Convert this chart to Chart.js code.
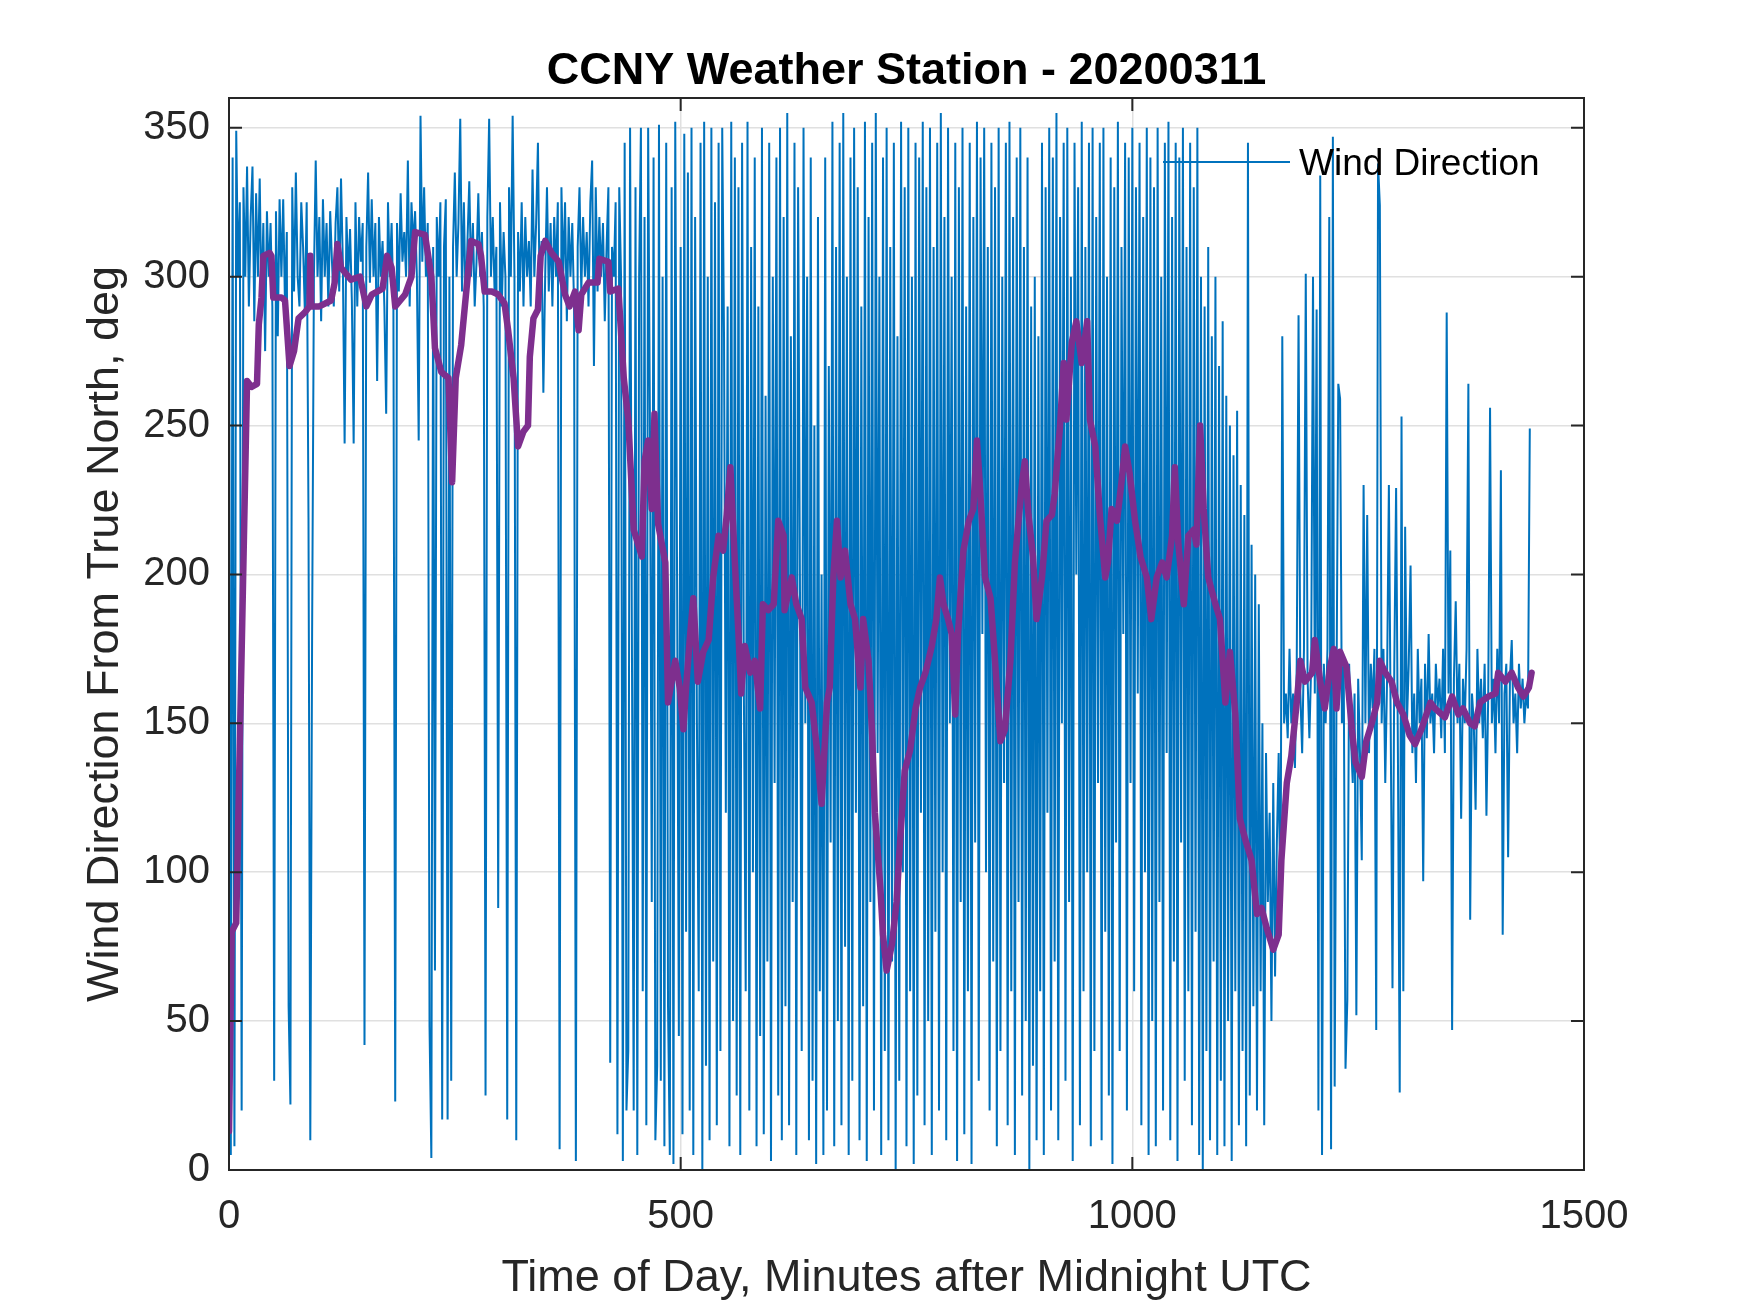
<!DOCTYPE html>
<html>
<head>
<meta charset="utf-8">
<title>CCNY Weather Station - 20200311</title>
<script src="https://cdn.jsdelivr.net/npm/chart.js@4.4.1/dist/chart.umd.min.js"></script>
<style>
  body { margin: 0; background: #fff; }
  #windChart { display: block; }
</style>
</head>
<body>
<canvas id="windChart" width="1750" height="1313"></canvas>
<script>
// station record, every 2 minutes (one row = one hour)
const sampleStart = 0;
const sampleStep = 2;
const windDirection = [
  318, 5, 340, 8, 349, 300, 325, 20, 330, 300, 337, 290, 320, 337, 285, 328, 300, 333, 290, 318, 275, 322, 300, 318, 290, 30, 322, 280, 326, 300,
  326, 290, 315, 55, 22, 330, 295, 335, 300, 290, 325, 310, 288, 325, 219, 10, 180, 300, 339, 300, 320, 285, 326, 300, 318, 290, 322, 305, 290, 318,
  330, 295, 333, 305, 244, 320, 300, 316, 292, 244, 325, 290, 320, 305, 318, 42, 310, 335, 298, 326, 300, 318, 265, 320, 300, 312, 290, 254, 325, 300,
  318, 290, 23, 318, 295, 328, 305, 315, 300, 339, 290, 325, 310, 322, 300, 245, 354, 305, 330, 300, 318, 48, 4, 310, 67, 320, 300, 325, 17, 310,
  326, 17, 300, 30, 310, 335, 300, 318, 353, 295, 325, 290, 312, 332, 300, 318, 290, 305, 328, 300, 315, 290, 25, 320, 353, 300, 320, 295, 310, 88,
  325, 290, 315, 300, 17, 330, 300, 354, 300, 10, 315, 295, 325, 290, 320, 300, 312, 290, 336, 300, 318, 345, 290, 312, 261, 300, 330, 295, 318, 290,
  320, 300, 325, 7, 330, 300, 325, 285, 320, 300, 318, 290, 3, 310, 330, 295, 320, 300, 315, 290, 325, 339, 270, 330, 295, 320, 300, 318, 285, 310,
  330, 36, 310, 300, 325, 12, 330, 300, 3, 345, 20, 40, 350, 180, 20, 330, 5, 300, 350, 60, 320, 15, 350, 250, 90, 340, 10, 35, 351, 30,
  300, 8, 345, 55, 5, 330, 2, 352, 200, 45, 310, 12, 348, 80, 335, 20, 350, 5, 320, 150, 60, 345, 0, 352, 35, 300, 10, 350, 70, 325,
  15, 345, 40, 350, 280, 120, 290, 8, 352, 50, 340, 25, 330, 5, 345, 160, 60, 352, 20, 310, 100, 340, 8, 290, 45, 350, 12, 260, 70, 345,
  3, 300, 130, 340, 25, 350, 10, 320, 55, 355, 15, 280, 90, 345, 5, 330, 200, 40, 350, 150, 300, 10, 340, 30, 250, 2, 320, 60, 200, 5,
  340, 20, 270, 110, 352, 8, 310, 50, 345, 15, 355, 75, 300, 5, 340, 30, 350, 120, 330, 10, 290, 55, 352, 3, 320, 90, 345, 20, 355, 140,
  300, 5, 340, 40, 350, 10, 310, 70, 345, 0, 280, 30, 352, 100, 330, 8, 350, 60, 300, 2, 345, 25, 340, 120, 352, 15, 330, 50, 350, 5,
  310, 80, 345, 20, 355, 100, 320, 10, 350, 150, 300, 40, 345, 3, 330, 90, 350, 12, 290, 60, 345, 2, 320, 110, 352, 30, 340, 180, 350, 100,
  310, 20, 345, 70, 330, 8, 350, 40, 300, 130, 345, 15, 352, 60, 320, 5, 340, 90, 350, 25, 310, 50, 340, 0, 290, 35, 300, 10, 280, 60,
  345, 5, 330, 120, 350, 20, 340, 70, 355, 10, 320, 150, 345, 30, 350, 90, 300, 3, 345, 200, 330, 15, 352, 60, 310, 100, 345, 8, 350, 40,
  320, 130, 345, 10, 350, 80, 300, 25, 340, 2, 330, 110, 352, 40, 310, 180, 345, 20, 340, 130, 350, 60, 330, 160, 345, 15, 320, 100, 350, 5,
  340, 50, 330, 8, 350, 90, 300, 20, 345, 140, 352, 10, 320, 70, 345, 3, 340, 110, 350, 30, 310, 60, 345, 15, 330, 80, 350, 5, 300, 0,
  290, 40, 310, 10, 280, 70, 300, 5, 270, 30, 285, 8, 260, 50, 250, 3, 240, 60, 255, 15, 230, 40, 220, 8, 345, 25, 210, 55, 200, 20,
  190, 60, 150, 15, 140, 90, 120, 50, 130, 65, 110, 140, 80, 280, 150, 160, 145, 175, 150, 160, 135, 170, 287, 160, 140, 175, 301, 165, 145, 170,
  300, 160, 289, 20, 334, 5, 170, 150, 175, 320, 7, 347, 28, 160, 264, 259, 150, 170, 34, 57, 170, 145, 130, 160, 52, 165, 140, 104, 230, 150,
  220, 140, 170, 155, 175, 47, 338, 324, 150, 175, 130, 165, 230, 150, 61, 170, 229, 140, 26, 253, 60, 216, 150, 170, 203, 140, 160, 130, 175, 150,
  165, 97, 170, 145, 180, 150, 160, 140, 170, 155, 165, 145, 175, 140, 288, 160, 208, 47, 165, 191, 150, 170, 118, 165, 150, 175, 264, 84, 160, 150,
  121, 175, 150, 165, 145, 170, 119, 160, 256, 150, 165, 140, 175, 150, 235, 79, 160, 170, 105, 165, 178, 150, 160, 140, 170, 155, 165, 150, 160, 155,
  249
];

// running mean (purple), read at its corners
const avgMinutes = [
  0, 3, 8, 20, 25, 31, 33, 36, 38, 45, 47, 49, 58, 62, 67, 72, 77, 84, 89, 90,
  91, 100, 113, 117, 120, 124, 135, 145, 152, 158, 170, 175, 180, 184, 195, 202, 206, 217, 224, 228,
  235, 243, 247, 251, 257, 268, 276, 279, 283, 291, 298, 305, 309, 315, 320, 326, 331, 333, 337, 342,
  345, 350, 357, 365, 372, 377, 383, 387, 390, 398, 408, 410, 420, 422, 431, 437, 442, 448, 453, 457,
  460, 464, 468, 471, 475, 483, 486, 494, 499, 503, 506, 510, 514, 519, 525, 531, 536, 542, 547, 551,
  555, 560, 564, 567, 571, 577, 582, 588, 591, 597, 603, 608, 614, 615, 623, 628, 634, 638, 645, 651,
  656, 662, 665, 669, 673, 677, 682, 688, 693, 699, 702, 708, 712, 715, 721, 724, 728, 734, 739, 743,
  748, 754, 760, 765, 771, 778, 783, 787, 791, 796, 800, 804, 807, 813, 819, 824, 828, 831, 837, 843,
  848, 854, 859, 865, 870, 874, 878, 881, 885, 890, 894, 900, 905, 911, 914, 920, 924, 927, 933, 938,
  944, 950, 953, 959, 964, 970, 973, 977, 983, 988, 992, 997, 1003, 1009, 1016, 1021, 1027, 1033, 1038, 1044,
  1047, 1051, 1057, 1062, 1068, 1071, 1075, 1079, 1084, 1092, 1097, 1103, 1108, 1114, 1119, 1125, 1132, 1138, 1143, 1149,
  1156, 1162, 1165, 1171, 1176, 1182, 1186, 1191, 1199, 1202, 1208, 1213, 1219, 1223, 1226, 1230, 1237, 1243, 1247, 1254,
  1259, 1265, 1271, 1274, 1280, 1287, 1293, 1300, 1307, 1313, 1320, 1330, 1335, 1346, 1354, 1361, 1366, 1374, 1379, 1385,
  1394, 1402, 1405, 1413, 1420, 1427, 1433, 1439, 1442
];
const avgDirection = [
  13, 80, 83, 265, 263, 264, 284, 293, 307, 308, 307, 293, 293, 292, 270, 275, 286, 288, 290, 307,
  290, 290, 292, 298, 311, 303, 299, 300, 290, 294, 296, 307, 303, 290, 294, 300, 315, 314, 300, 276,
  268, 266, 231, 266, 277, 312, 311, 307, 295, 295, 294, 291, 282, 266, 243, 248, 250, 273, 286, 289,
  307, 312, 308, 305, 294, 290, 295, 282, 294, 298, 298, 306, 305, 295, 296, 266, 252, 215, 210, 206,
  238, 245, 222, 254, 217, 204, 157, 171, 162, 148, 162, 178, 192, 164, 174, 178, 199, 213, 208, 220,
  236, 204, 180, 160, 176, 167, 171, 155, 190, 188, 190, 218, 213, 188, 199, 190, 185, 162, 157, 141,
  123, 157, 162, 199, 218, 199, 208, 190, 185, 162, 185, 171, 146, 120, 95, 79, 67, 76, 90, 111,
  134, 141, 155, 162, 167, 176, 185, 199, 190, 185, 180, 153, 180, 208, 218, 222, 245, 231, 199, 192,
  171, 144, 148, 171, 204, 218, 231, 238, 220, 206, 185, 199, 218, 220, 227, 250, 271, 252, 278, 285,
  271, 285, 252, 243, 220, 199, 204, 222, 218, 231, 243, 234, 218, 206, 199, 185, 199, 204, 199, 213,
  236, 210, 190, 213, 215, 210, 250, 222, 199, 190, 185, 157, 174, 153, 118, 111, 104, 86, 88, 81,
  74, 79, 104, 130, 139, 157, 171, 164, 167, 178, 164, 155, 169, 175, 155, 174, 169, 148, 137, 132,
  144, 150, 157, 171, 167, 164, 157, 153, 146, 143, 148, 157, 155, 152, 159, 153, 155, 150, 149, 157,
  159, 160, 167, 164, 167, 162, 159, 162, 167
];

const xTicks = [0, 500, 1000, 1500];
const yTicks = [0, 50, 100, 150, 200, 250, 300, 350];
const legendLabel = 'Wind Direction';

const inkColor = '#262626';
const blue = '#0072BD';
const purple = '#7E2F8E';
const fontFace = '"Liberation Sans", Arial, Helvetica, sans-serif';

// frame, inward ticks on all four sides and the boxless legend, MATLAB style
const axesFrame = {
  id: 'axesFrame',
  afterDatasetsDraw(chart) {
    const { ctx, chartArea: a, scales: { x, y } } = chart;
    const tick = 13;
    ctx.save();
    ctx.strokeStyle = inkColor;
    ctx.lineWidth = 2;
    ctx.strokeRect(a.left, a.top, a.right - a.left, a.bottom - a.top);
    ctx.beginPath();
    xTicks.forEach(v => {
      const px = x.getPixelForValue(v);
      ctx.moveTo(px, a.bottom); ctx.lineTo(px, a.bottom - tick);
      ctx.moveTo(px, a.top); ctx.lineTo(px, a.top + tick);
    });
    yTicks.forEach(v => {
      const py = y.getPixelForValue(v);
      ctx.moveTo(a.left, py); ctx.lineTo(a.left + tick, py);
      ctx.moveTo(a.right, py); ctx.lineTo(a.right - tick, py);
    });
    ctx.stroke();

    // legend (only the raw series is listed)
    const ly = a.top + 64;
    ctx.strokeStyle = blue;
    ctx.lineWidth = 2;
    ctx.beginPath();
    ctx.moveTo(a.right - 421, ly);
    ctx.lineTo(a.right - 294, ly);
    ctx.stroke();
    ctx.fillStyle = '#000';
    ctx.font = '37px ' + fontFace;
    ctx.textAlign = 'left';
    ctx.textBaseline = 'middle';
    ctx.fillText(legendLabel, a.right - 285, ly + 3);
    ctx.restore();
  }
};

new Chart(document.getElementById('windChart'), {
  type: 'line',
  data: {
    datasets: [{
      label: legendLabel,
      data: windDirection.map((v, i) => ({ x: sampleStart + i * sampleStep, y: v })),
      borderColor: blue,
      borderWidth: 2,
      pointRadius: 0,
      tension: 0,
      order: 1
    }, {
      label: 'Running mean',
      data: avgDirection.map((v, i) => ({ x: avgMinutes[i], y: v })),
      borderColor: purple,
      borderWidth: 6.5,
      borderJoinStyle: 'round',
      borderCapStyle: 'round',
      pointRadius: 0,
      tension: 0,
      order: 0
    }]
  },
  options: {
    responsive: false,
    animation: false,
    devicePixelRatio: 1,
    layout: { padding: { left: 0, right: 166, top: 0, bottom: 0 } },
    plugins: {
      legend: { display: false },
      tooltip: { enabled: false },
      title: {
        display: true,
        fullSize: false,
        text: 'CCNY Weather Station - 20200311',
        color: '#000',
        font: { family: fontFace, size: 45, weight: 'bold' },
        padding: { top: 45, bottom: -1 }
      }
    },
    scales: {
      x: {
        type: 'linear',
        min: 0,
        max: 1500,
        afterBuildTicks: axis => { axis.ticks = xTicks.map(v => ({ value: v })); },
        afterFit: axis => { axis.height = 143; },
        grid: { color: '#e0e0e0', lineWidth: 1.5, drawTicks: false },
        border: { display: false },
        ticks: {
          color: inkColor,
          padding: 23,
          maxRotation: 0,
          callback: v => String(v),
          font: { family: fontFace, size: 40 }
        },
        title: {
          display: true,
          text: 'Time of Day, Minutes after Midnight UTC',
          color: inkColor,
          font: { family: fontFace, size: 45 },
          padding: { top: 0, bottom: 7 }
        }
      },
      y: {
        min: 0,
        max: 360,
        afterBuildTicks: axis => { axis.ticks = yTicks.map(v => ({ value: v })); },
        afterFit: axis => { axis.width = 229; },
        grid: { color: '#e0e0e0', lineWidth: 1.5, drawTicks: false },
        border: { display: false },
        ticks: {
          color: inkColor,
          padding: 19,
          callback: v => String(v),
          font: { family: fontFace, size: 40 }
        },
        title: {
          display: true,
          text: 'Wind Direction From True North, deg',
          color: inkColor,
          font: { family: fontFace, size: 45 },
          padding: { top: 79, bottom: 0 }
        }
      }
    }
  },
  plugins: [axesFrame]
});
</script>
</body>
</html>
